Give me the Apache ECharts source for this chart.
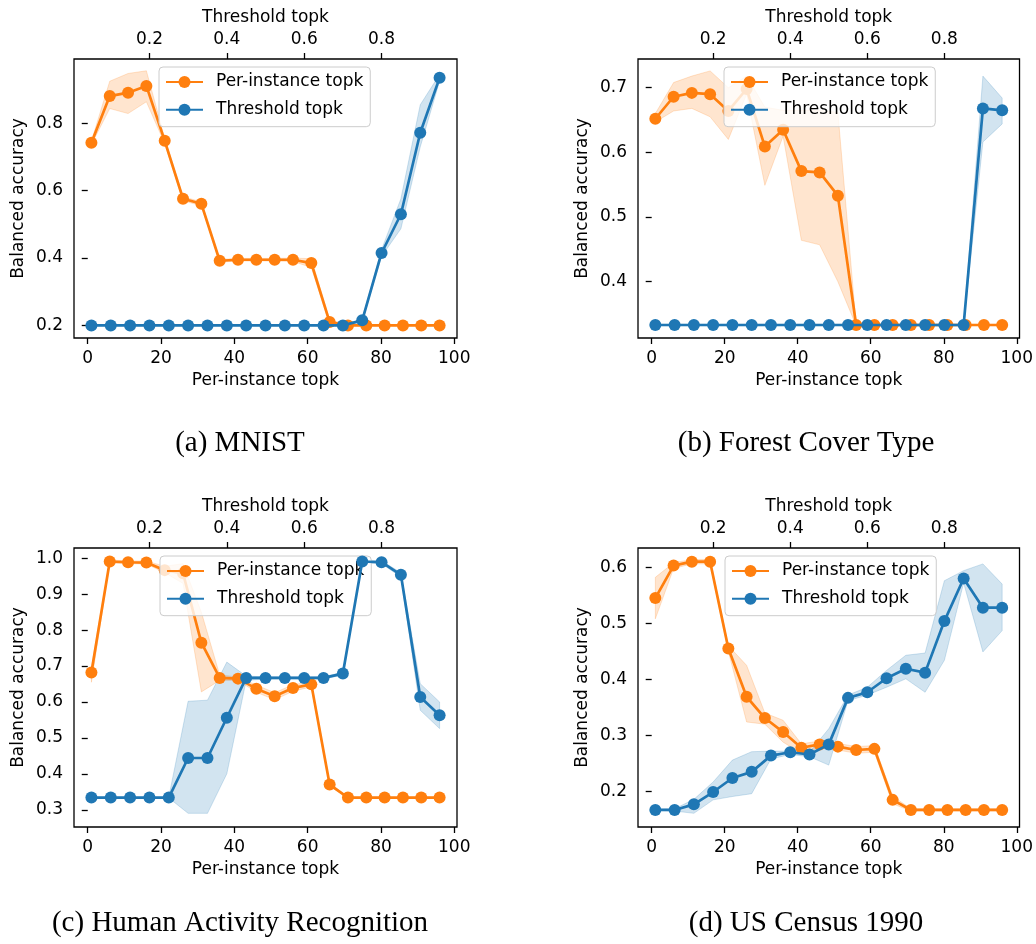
<!DOCTYPE html>
<html><head><meta charset="utf-8">
<script src="https://cdn.jsdelivr.net/npm/echarts@6/dist/echarts.min.js"></script>
<style>html,body{margin:0;padding:0;background:#fff}#c{width:1036px;height:944px}</style>
</head><body><div id="c"></div>
<script>
// x values
const perInstanceX = [1,6,11,16,21,26,31,36,41,46,51,56,61,66,71,76,81,86,91,96];
const thresholdX = [0.05,0.10,0.15,0.20,0.25,0.30,0.35,0.40,0.45,0.50,0.55,0.60,0.65,0.70,0.75,0.80,0.85,0.90,0.95];
const bottomTicks = [0,20,40,60,80,100];
const topTicks = [0.2,0.4,0.6,0.8];

// (a) MNIST
const mnistPI    = [0.742,0.881,0.891,0.911,0.748,0.576,0.561,0.392,0.395,0.395,0.395,0.395,0.385,0.210,0.200,0.200,0.200,0.200,0.200,0.200];
const mnistPILo  = [0.737,0.844,0.829,0.864,0.740,0.570,0.555,0.388,0.391,0.391,0.391,0.390,0.372,0.203,0.199,0.199,0.199,0.199,0.199,0.199];
const mnistPIHi  = [0.747,0.925,0.948,0.956,0.756,0.582,0.567,0.396,0.399,0.399,0.399,0.400,0.398,0.217,0.201,0.201,0.201,0.201,0.201,0.201];
const mnistTH    = [0.200,0.200,0.200,0.200,0.200,0.200,0.200,0.200,0.200,0.200,0.200,0.200,0.200,0.200,0.215,0.415,0.530,0.772,0.935];
const mnistTHLo  = [0.199,0.199,0.199,0.199,0.199,0.199,0.199,0.199,0.199,0.199,0.199,0.199,0.199,0.199,0.211,0.405,0.487,0.730,0.925];
const mnistTHHi  = [0.201,0.201,0.201,0.201,0.201,0.201,0.201,0.201,0.201,0.201,0.201,0.201,0.201,0.201,0.219,0.425,0.576,0.855,0.945];
const mnistYTicks = [0.2,0.4,0.6,0.8];

// (b) Forest Cover Type
const forestPI   = [0.652,0.686,0.692,0.690,0.664,0.698,0.609,0.635,0.571,0.569,0.533,0.333,0.333,0.333,0.333,0.333,0.333,0.333,0.333,0.333];
const forestPILo = [0.647,0.664,0.668,0.655,0.620,0.690,0.549,0.625,0.464,0.457,0.400,0.332,0.332,0.332,0.332,0.332,0.332,0.332,0.332,0.332];
const forestPIHi = [0.660,0.708,0.718,0.726,0.700,0.718,0.670,0.665,0.665,0.665,0.662,0.334,0.334,0.334,0.334,0.334,0.334,0.334,0.334,0.334];
const forestTH   = [0.333,0.333,0.333,0.333,0.333,0.333,0.333,0.333,0.333,0.333,0.333,0.333,0.333,0.333,0.333,0.333,0.333,0.668,0.665];
const forestTHLo = [0.332,0.332,0.332,0.332,0.332,0.332,0.332,0.332,0.332,0.332,0.332,0.332,0.332,0.332,0.332,0.332,0.332,0.616,0.644];
const forestTHHi = [0.334,0.334,0.334,0.334,0.334,0.334,0.334,0.334,0.334,0.334,0.334,0.334,0.334,0.334,0.334,0.334,0.334,0.718,0.684];
const forestYTicks = [0.4,0.5,0.6,0.7];

// (c) Human Activity Recognition
const harPI   = [0.682,0.991,0.989,0.988,0.967,0.958,0.765,0.667,0.665,0.637,0.616,0.639,0.649,0.370,0.334,0.334,0.334,0.334,0.334,0.334];
const harPILo = [0.655,0.987,0.985,0.984,0.960,0.930,0.628,0.660,0.660,0.627,0.606,0.630,0.642,0.365,0.333,0.333,0.333,0.333,0.333,0.333];
const harPIHi = [0.695,0.995,0.993,0.992,0.978,0.985,0.850,0.675,0.670,0.647,0.626,0.648,0.656,0.375,0.335,0.335,0.335,0.335,0.335,0.335];
const harTH   = [0.334,0.334,0.334,0.334,0.334,0.444,0.444,0.556,0.667,0.667,0.667,0.667,0.667,0.679,0.991,0.989,0.954,0.614,0.563];
const harTHLo = [0.333,0.333,0.333,0.333,0.333,0.290,0.290,0.400,0.660,0.664,0.664,0.664,0.664,0.675,0.987,0.985,0.948,0.577,0.526];
const harTHHi = [0.335,0.335,0.335,0.335,0.335,0.602,0.605,0.711,0.672,0.670,0.670,0.670,0.670,0.683,0.995,0.993,0.960,0.651,0.600];
const harYTicks = [0.3,0.4,0.5,0.6,0.7,0.8,0.9,1.0];

// (d) US Census 1990
const usPI   = [0.545,0.603,0.610,0.610,0.455,0.369,0.331,0.306,0.278,0.284,0.280,0.274,0.276,0.185,0.167,0.167,0.167,0.167,0.167,0.167];
const usPILo = [0.508,0.598,0.606,0.606,0.450,0.324,0.320,0.288,0.268,0.278,0.274,0.268,0.270,0.178,0.165,0.165,0.165,0.165,0.165,0.165];
const usPIHi = [0.582,0.608,0.614,0.614,0.460,0.425,0.340,0.327,0.285,0.290,0.286,0.280,0.282,0.192,0.169,0.169,0.169,0.169,0.169,0.169];
const usTH   = [0.167,0.167,0.177,0.199,0.224,0.235,0.264,0.270,0.266,0.284,0.367,0.377,0.402,0.419,0.412,0.504,0.580,0.528,0.528];
const usTHLo = [0.166,0.165,0.161,0.185,0.191,0.196,0.258,0.266,0.262,0.247,0.362,0.372,0.386,0.401,0.377,0.434,0.572,0.449,0.487];
const usTHHi = [0.168,0.169,0.186,0.217,0.256,0.271,0.272,0.272,0.270,0.312,0.372,0.386,0.416,0.443,0.447,0.576,0.594,0.606,0.570];
const usYTicks = [0.2,0.3,0.4,0.5,0.6];

const titles = ['(a) MNIST','(b) Forest Cover Type','(c) Human Activity Recognition','(d) US Census 1990'];
const seriesNames = ['Per-instance topk','Threshold topk'];

const panels = [
  {pi:mnistPI, piLo:mnistPILo, piHi:mnistPIHi, th:mnistTH, thLo:mnistTHLo, thHi:mnistTHHi, yTicks:mnistYTicks},
  {pi:forestPI, piLo:forestPILo, piHi:forestPIHi, th:forestTH, thLo:forestTHLo, thHi:forestTHHi, yTicks:forestYTicks},
  {pi:harPI, piLo:harPILo, piHi:harPIHi, th:harTH, thLo:harTHLo, thHi:harTHHi, yTicks:harYTicks},
  {pi:usPI, piLo:usPILo, piHi:usPIHi, th:usTH, thLo:usTHLo, thHi:usTHHi, yTicks:usYTicks}
];
// layout (positions/styles)
const layout = [
  {left:74, top:59, yMin:0.1626, yMax:0.991, legL:159, legT:67, tx:240, ty:443},
  {left:638, top:59, yMin:0.3129, yMax:0.7444, legL:724, legT:67, tx:806, ty:443},
  {left:74, top:548, yMin:0.252, yMax:1.0286, legL:160, legT:556, tx:240, ty:923},
  {left:638, top:548, yMin:0.1366, yMax:0.6344, legL:725, legT:556, tx:806, ty:923}
];

const FONT = 'DejaVu Sans';
const ORANGE = '#ff7f0e', BLUE = '#1f77b4';
const ORANGE_FILL = 'rgba(255,127,14,0.2)', BLUE_FILL = 'rgba(31,119,180,0.2)';
const ORANGE_EDGE = 'rgba(255,127,14,0.2)', BLUE_EDGE = 'rgba(31,119,180,0.2)';
const zip = (xs, ys) => xs.map((x, i) => [x, ys[i]]);
const fmt1 = v => (+v).toFixed(1);
const txt = {fontFamily: FONT, fontSize: 17, color: '#000'};

// band drawn as one polygon through the axis scales
function bandSeries(xs, lo, hi, xIdx, yIdx, fill, edge) {
  const data = xs.map((x, k) => [x, lo[k], hi[k]]);
  return {
    type: 'custom', xAxisIndex: xIdx, yAxisIndex: yIdx, silent: true, z: 1, clip: true,
    encode: {x: 0, y: [1, 2]},
    data,
    renderItem: function (params, api) {
      if (params.dataIndex !== 0) return null;
      const upper = data.map(d => api.coord([d[0], d[2]]));
      const lower = data.map(d => api.coord([d[0], d[1]])).reverse();
      const cs = params.coordSys;
      return {
        type: 'polygon',
        shape: {points: echarts.graphic.clipPointsByRect(upper.concat(lower), {x: cs.x, y: cs.y, width: cs.width, height: cs.height})},
        style: {fill: fill, stroke: edge, lineWidth: 1}
      };
    }
  };
}

const grid = [], xAxis = [], yAxis = [], series = [], legend = [], graphic = [];
panels.forEach((p, i) => {
  const L = layout[i];
  grid.push({left: L.left, top: L.top, width: 383, height: 279, show: true, borderColor: '#000', borderWidth: 1.3, backgroundColor: 'transparent'});
  xAxis.push({
    gridIndex: i, type: 'value', position: 'bottom', min: -3.75, max: 100.75,
    name: 'Per-instance topk', nameLocation: 'middle', nameGap: 34, nameTextStyle: txt,
    axisLine: {show: false},
    axisTick: {show: true, inside: false, length: 6, lineStyle: {color: '#000', width: 1.3}, customValues: bottomTicks},
    axisLabel: {customValues: bottomTicks, margin: 12, ...txt},
    splitLine: {show: false}
  });
  xAxis.push({
    gridIndex: i, type: 'value', position: 'top', min: 0.005, max: 0.995,
    name: 'Threshold topk', nameLocation: 'middle', nameGap: 33, nameTextStyle: txt,
    axisLine: {show: false},
    axisTick: {show: true, inside: false, length: 6, lineStyle: {color: '#000', width: 1.3}, customValues: topTicks},
    axisLabel: {customValues: topTicks, margin: 11, formatter: fmt1, ...txt},
    splitLine: {show: false}
  });
  yAxis.push({
    gridIndex: i, type: 'value', min: L.yMin, max: L.yMax,
    name: 'Balanced accuracy', nameLocation: 'middle', nameGap: 47, nameRotate: 90, nameTextStyle: txt,
    axisLine: {show: false},
    axisTick: {show: true, inside: false, length: 6, lineStyle: {color: '#000', width: 1.3}, customValues: p.yTicks},
    axisLabel: {customValues: p.yTicks, margin: 11, formatter: fmt1, ...txt},
    splitLine: {show: false}
  });
  const bx = 2 * i, tx = 2 * i + 1;
  series.push(bandSeries(perInstanceX, p.piLo, p.piHi, bx, i, ORANGE_FILL, ORANGE_EDGE));
  series.push({type: 'line', name: seriesNames[0], xAxisIndex: bx, yAxisIndex: i, data: zip(perInstanceX, p.pi),
    symbol: 'circle', symbolSize: 12, showAllSymbol: true, lineStyle: {width: 2.7, color: ORANGE}, itemStyle: {color: ORANGE}, z: 3, animation: false, emphasis: {disabled: true}});
  series.push(bandSeries(thresholdX, p.thLo, p.thHi, tx, i, BLUE_FILL, BLUE_EDGE));
  series.push({type: 'line', name: seriesNames[1], xAxisIndex: tx, yAxisIndex: i, data: zip(thresholdX, p.th),
    symbol: 'circle', symbolSize: 12, showAllSymbol: true, lineStyle: {width: 2.7, color: BLUE}, itemStyle: {color: BLUE}, z: 4, animation: false, emphasis: {disabled: true}});
  legend.push({
    orient: 'vertical', left: L.legL, top: L.legT, data: seriesNames, selectedMode: false,
    itemWidth: 37, itemHeight: 15, itemGap: 10.7, padding: [6.5, 7, 8.5, 6],
    backgroundColor: 'rgba(255,255,255,0.8)', borderColor: '#cccccc', borderWidth: 1, borderRadius: 4,
    textStyle: {fontFamily: FONT, fontSize: 17, color: '#000', lineHeight: 15, padding: [0, 0, 0, 8]}
  });
  graphic.push({type: 'text', x: L.tx, y: L.ty, silent: true,
    style: {text: titles[i], fontFamily: 'Liberation Serif', fontSize: 29, fill: '#000',
      align: 'center', verticalAlign: 'middle', textAlign: 'center', textVerticalAlign: 'middle'}});
});

const chart = echarts.init(document.getElementById('c'), null, {renderer: 'canvas'});
chart.setOption({backgroundColor: '#fff', animation: false, grid, xAxis, yAxis, series, legend, graphic});
</script>
</body></html>
